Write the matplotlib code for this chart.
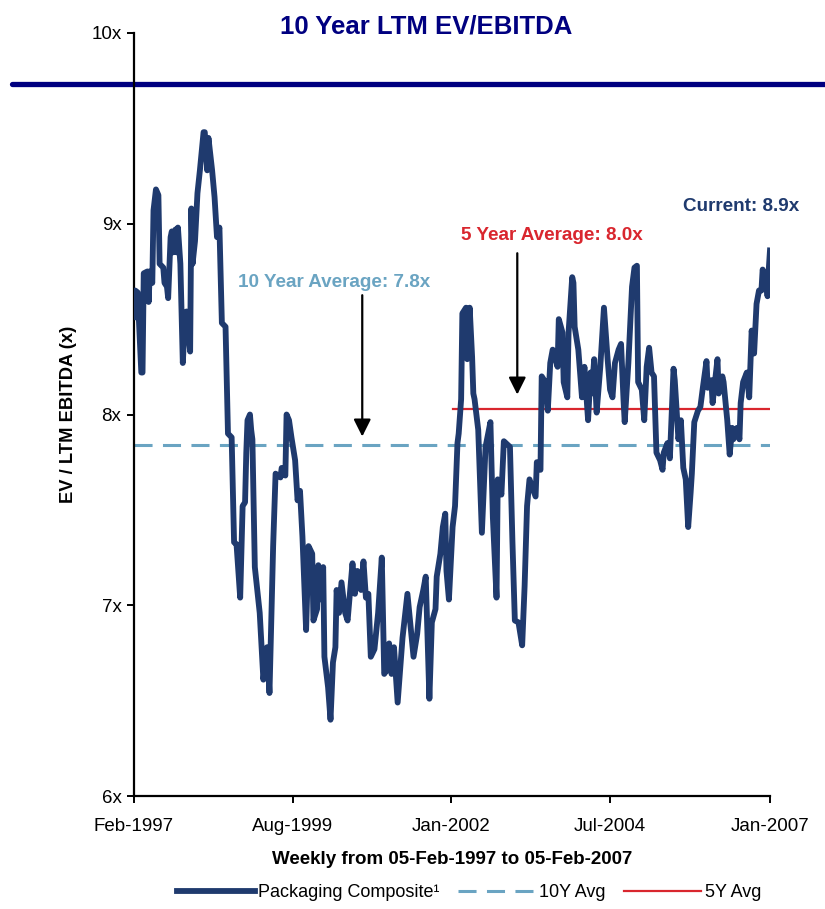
import matplotlib
matplotlib.use("Agg")
import matplotlib.pyplot as plt
from matplotlib.lines import Line2D

plt.rcParams['font.family'] = ['Liberation Sans', 'DejaVu Sans']
plt.rcParams['lines.scale_dashes'] = False

# weekly series, 05-Feb-1997 (week 0) to 05-Feb-2007 (week 521)
weeks = [
    0, 1, 3, 6, 7, 8, 11, 12, 13, 15,
    16, 18, 20, 21, 24, 25, 27, 28, 30, 31,
    32, 34, 35, 36, 38, 40, 42, 43, 46, 47,
    48, 50, 52, 54, 57, 58, 60, 61, 64, 66,
    68, 70, 72, 75, 77, 80, 82, 84, 87, 89,
    91, 92, 93, 95, 96, 97, 99, 101, 103, 106,
    109, 111, 113, 114, 116, 120, 121, 124, 125, 127,
    129, 132, 134, 136, 138, 141, 143, 146, 147, 150,
    151, 152, 155, 156, 159, 161, 163, 165, 166, 168,
    170, 173, 175, 179, 181, 183, 186, 188, 190, 192,
    194, 197, 200, 203, 205, 207, 209, 211, 213, 216,
    220, 224, 229, 232, 234, 237, 239, 242, 244, 247,
    248, 251, 253, 255, 256, 258, 261, 263, 265, 266,
    268, 269, 272, 273, 275, 277, 278, 279, 282, 285,
    288, 292, 294, 297, 298, 301, 303, 308, 310, 312,
    315, 318, 320, 322, 324, 329, 330, 333, 334, 337,
    339, 341, 343, 347, 348, 351, 352, 355, 356, 359,
    360, 361, 364, 367, 369, 372, 374, 375, 377, 379,
    382, 385, 388, 390, 392, 394, 397, 399, 401, 402,
    405, 408, 410, 412, 413, 416, 418, 420, 422, 424,
    426, 428, 431, 433, 434, 437, 439, 442, 443, 446,
    448, 450, 452, 454, 456, 457, 459, 462, 464, 466,
    469, 470, 473, 474, 478, 479, 482, 483, 486, 488,
    490, 491, 494, 496, 497, 499, 502, 504, 506, 508,
    510, 512, 514, 515, 518, 519, 520, 521,
]
ev_ebitda = [
    8.51, 8.65, 8.64, 8.22, 8.22, 8.74, 8.75, 8.59, 8.75, 8.69,
    9.07, 9.18, 9.15, 8.79, 8.77, 8.69, 8.67, 8.61, 8.93, 8.96,
    8.85, 8.97, 8.85, 8.98, 8.79, 8.27, 8.53, 8.54, 8.33, 9.08,
    8.79, 8.91, 9.16, 9.28, 9.48, 9.48, 9.28, 9.45, 9.28, 9.14,
    8.93, 8.98, 8.48, 8.46, 7.90, 7.88, 7.33, 7.32, 7.04, 7.52,
    7.54, 7.80, 7.97, 8.00, 7.92, 7.87, 7.20, 7.08, 6.96, 6.61,
    6.78, 6.54, 7.04, 7.31, 7.69, 7.67, 7.72, 7.68, 8.00, 7.97,
    7.88, 7.76, 7.55, 7.60, 7.36, 6.87, 7.31, 7.27, 6.92, 6.98,
    7.21, 7.03, 7.20, 6.73, 6.57, 6.40, 6.70, 6.78, 7.08, 6.96,
    7.12, 6.96, 6.92, 7.22, 7.06, 7.18, 7.08, 7.23, 7.04, 7.06,
    6.73, 6.77, 6.96, 7.25, 6.64, 6.66, 6.80, 6.64, 6.78, 6.49,
    6.83, 7.06, 6.73, 6.85, 6.99, 7.08, 7.15, 6.51, 6.91, 6.98,
    7.15, 7.27, 7.41, 7.48, 7.18, 7.03, 7.41, 7.52, 7.85, 7.90,
    8.08, 8.53, 8.56, 8.29, 8.56, 8.30, 8.11, 8.08, 7.92, 7.38,
    7.83, 7.96, 7.46, 7.04, 7.66, 7.58, 7.86, 7.83, 7.34, 6.92,
    6.91, 6.79, 7.10, 7.52, 7.66, 7.57, 7.75, 7.71, 8.20, 8.17,
    8.02, 8.27, 8.34, 8.25, 8.50, 8.43, 8.17, 8.09, 8.43, 8.72,
    8.69, 8.46, 8.34, 8.09, 8.25, 7.97, 8.22, 8.11, 8.29, 8.01,
    8.25, 8.56, 8.29, 8.13, 8.09, 8.27, 8.34, 8.37, 8.08, 7.96,
    8.27, 8.67, 8.77, 8.78, 8.17, 8.13, 7.97, 8.25, 8.35, 8.22,
    8.20, 7.80, 7.76, 7.71, 7.80, 7.85, 7.77, 8.24, 8.18, 7.87,
    7.97, 7.72, 7.66, 7.41, 7.59, 7.69, 7.96, 8.02, 8.04, 8.14,
    8.28, 8.14, 8.18, 8.06, 8.29, 8.11, 8.20, 8.17, 7.97, 7.79,
    7.93, 7.87, 7.93, 7.87, 8.06, 8.17, 8.22, 8.09, 8.44, 8.32,
    8.58, 8.65, 8.65, 8.76, 8.69, 8.62, 8.76, 8.86,
]
avg_10y = 7.84
avg_5y = 8.03
avg_5y_start = 261  # first week of the 5 year window

tick_weeks = [0, 130, 260, 390, 521]
tick_labels = ['Feb-1997', 'Aug-1999', 'Jan-2002', 'Jul-2004', 'Jan-2007']
y_ticks = [6, 7, 8, 9, 10]

NAVY = '#1f3a6e'
LBLUE = '#6aa4c2'
RED = '#d9262e'

fig = plt.figure(figsize=(8.25, 9.09), dpi=100)
ax = fig.add_axes([0.1624, 0.1243, 0.7709, 0.8394])
ax.patch.set_visible(False)

# header rule across the page, behind the axes
fig.add_artist(Line2D([0.0145, 1.0], [0.9076, 0.9076], transform=fig.transFigure,
                      color='#000080', lw=3.8, solid_capstyle='round', zorder=-1))

ax.plot(weeks, ev_ebitda, color=NAVY, lw=4.2, solid_joinstyle='round',
        label='Packaging Composite¹', zorder=3)
ax.plot([weeks[0], weeks[-1]], [avg_10y, avg_10y], color=LBLUE, lw=2.2,
        dashes=(13, 7.5), label='10Y Avg', zorder=2)
ax.plot([avg_5y_start, weeks[-1]], [avg_5y, avg_5y], color=RED, lw=1.6,
        label='5Y Avg', zorder=2)

ax.set_xlim(0, 521)
ax.set_ylim(6, 10)
ax.set_xticks(tick_weeks)
ax.set_xticklabels(tick_labels)
ax.set_yticks(y_ticks)
ax.set_yticklabels([f'{v}x' for v in y_ticks])
for s in ['top', 'right']:
    ax.spines[s].set_visible(False)
for s in ['left', 'bottom']:
    ax.spines[s].set_linewidth(1.6)
ax.tick_params(axis='both', length=5, width=1.4, labelsize=13.5)
ax.tick_params(axis='y', pad=4)
ax.tick_params(axis='x', pad=11)

ax.set_ylabel('EV / LTM EBITDA (x)', fontsize=13.2, fontweight='bold', labelpad=10)
ax.set_xlabel('Weekly from 05-Feb-1997 to 05-Feb-2007', fontsize=13.5,
              fontweight='bold', labelpad=11)

fig.text(0.516, 0.971, '10 Year LTM EV/EBITDA', ha='center', va='center',
         fontsize=18.5, fontweight='bold', color='#000080')

# average / current callouts
arrow = dict(arrowstyle='-|>', color='black', lw=1.6, mutation_scale=26)
ax.annotate('', xy=(187, 7.87), xytext=(187, 8.64), arrowprops=arrow)
ax.annotate('', xy=(314, 8.09), xytext=(314, 8.86), arrowprops=arrow)
ax.text(164, 8.69, f'10 Year Average: {avg_10y:.1f}x', color=LBLUE,
        fontsize=13.6, fontweight='bold', ha='center', va='center')
ax.text(342, 8.94, f'5 Year Average: {avg_5y:.1f}x', color=RED,
        fontsize=13.6, fontweight='bold', ha='center', va='center')
ax.text(497, 9.09, f'Current: {ev_ebitda[-1]:.1f}x', color=NAVY,
        fontsize=13.6, fontweight='bold', ha='center', va='center')

ax.legend(loc='center', bbox_to_anchor=(0.527, -0.127), ncol=3, frameon=False,
          fontsize=13, handlelength=4.3, handletextpad=0.2, columnspacing=1.0)

fig.savefig('out.png', dpi=100)
